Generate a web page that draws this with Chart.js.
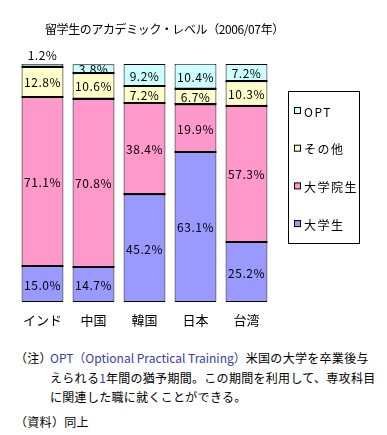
<!DOCTYPE html>
<html>
<head>
<meta charset="utf-8">
<script src="https://cdn.jsdelivr.net/npm/chart.js@4"></script>
<style>
  body { margin: 0; background: #fff; font-family: "Noto Sans CJK JP", sans-serif; }
  #wrap { position: relative; width: 387px; height: 435px; }
  #chart { position: absolute; left: 0; top: 0; }
  .note { position: absolute; font-size: 12px; line-height: 19.5px; color: #000; white-space: nowrap; letter-spacing: 0.3px; }
  .blue { color: #3a3aa8; letter-spacing: 0; }
</style>
</head>
<body>
<div id="wrap">
  <canvas id="chart" width="387" height="335"></canvas>
  <div class="note" style="left:15px; top:348px;">（注）</div>
  <div class="note" style="left:50px; top:348px;"><span class="blue">OPT（Optional Practical Training）</span>米国の大学を卒業後与<br>えられる<span class="blue">1</span>年間の猶予期間。この期間を利用して、専攻科目<br>に関連した職に就くことができる。</div>
  <div class="note" style="left:15px; top:412px;">（資料）同上</div>
</div>
<script>
const countries = ['インド', '中国', '韓国', '日本', '台湾'];
const seriesNames = ['大学生', '大学院生', 'その他', 'OPT'];
const undergrad = [15.0, 14.7, 45.2, 63.1, 25.2];
const graduate = [71.1, 70.8, 38.4, 19.9, 57.3];
const other = [12.8, 10.6, 7.2, 6.7, 10.3];
const opt = [1.2, 3.8, 9.2, 10.4, 7.2];
const colors = ['#9999ff', '#ff99cc', '#ffffcc', '#ccffff'];

const font = '12px "Noto Sans CJK JP", sans-serif';

const labelPlugin = {
  id: 'labels',
  afterDatasetsDraw(chart) {
    const ctx = chart.ctx;
    ctx.save();
    // thick separators between segments
    ctx.strokeStyle = '#000';
    ctx.lineWidth = 2;
    chart.data.datasets.forEach((ds, di) => {
      if (di === 0) return;
      chart.getDatasetMeta(di).data.forEach(bar => {
        const y = Math.round(bar.base);
        ctx.beginPath();
        ctx.moveTo(bar.x - bar.width / 2, y);
        ctx.lineTo(bar.x + bar.width / 2, y);
        ctx.stroke();
      });
    });
    ctx.fillStyle = '#000';
    ctx.font = font;
    ctx.textAlign = 'center';
    ctx.textBaseline = 'middle';
    ctx.letterSpacing = '0.5px';
    chart.data.datasets.forEach((ds, di) => {
      const meta = chart.getDatasetMeta(di);
      meta.data.forEach((bar, i) => {
        const v = ds.data[i];
        let y = (bar.y + bar.base) / 2;
        if (v < 2) y = bar.y - 9;
        ctx.fillText(v.toFixed(1) + '%', bar.x, y + 1);
      });
    });
    // category labels
    const xs = chart.scales.x;
    ctx.font = '13px "Noto Sans CJK JP", sans-serif';
    ctx.letterSpacing = '0px';
    countries.forEach((c, i) => {
      ctx.fillText(c, xs.getPixelForValue(i), chart.chartArea.bottom + 18);
    });
    // title
    ctx.textAlign = 'left';
    ctx.font = '12px "Noto Sans CJK JP", sans-serif';
    ctx.letterSpacing = '-0.4px';
    ctx.fillText('留学生のアカデミック・レベル（2006/07年）', 45, 29);
    // legend
    const lx = 288, ly = 91, lw = 71, lh = 152;
    ctx.lineWidth = 1;
    ctx.strokeRect(lx + 0.5, ly + 0.5, lw, lh);
    ctx.font = font;
    ctx.letterSpacing = '1.5px';
    for (let k = 0; k < seriesNames.length; k++) {
      const idx = seriesNames.length - 1 - k;
      const cy = ly + 20 + k * 37.7;
      ctx.fillStyle = colors[idx];
      ctx.fillRect(lx + 6.5, cy - 3.5, 6, 6);
      ctx.strokeRect(lx + 6.5, cy - 3.5, 6, 6);
      ctx.fillStyle = '#000';
      ctx.fillText(seriesNames[idx], lx + 16, cy + 1);
    }
    ctx.restore();
  }
};

const datasets = [undergrad, graduate, other, opt].map((d, i) => ({
  label: seriesNames[i],
  data: d,
  backgroundColor: colors[i],
  borderColor: '#000',
  borderWidth: 1,
  borderSkipped: false,
  barPercentage: 0.82,
  categoryPercentage: 1
}));

new Chart(document.getElementById('chart'), {
  type: 'bar',
  data: { labels: countries, datasets: datasets },
  options: {
    responsive: false,
    animation: false,
    layout: { padding: { left: 17, right: 115, top: 64, bottom: 33 } },
    plugins: { legend: { display: false }, tooltip: { enabled: false } },
    scales: {
      x: { stacked: true, display: false },
      y: { stacked: true, display: false, min: 0, max: 100 }
    }
  },
  plugins: [labelPlugin]
});
</script>
</body>
</html>
